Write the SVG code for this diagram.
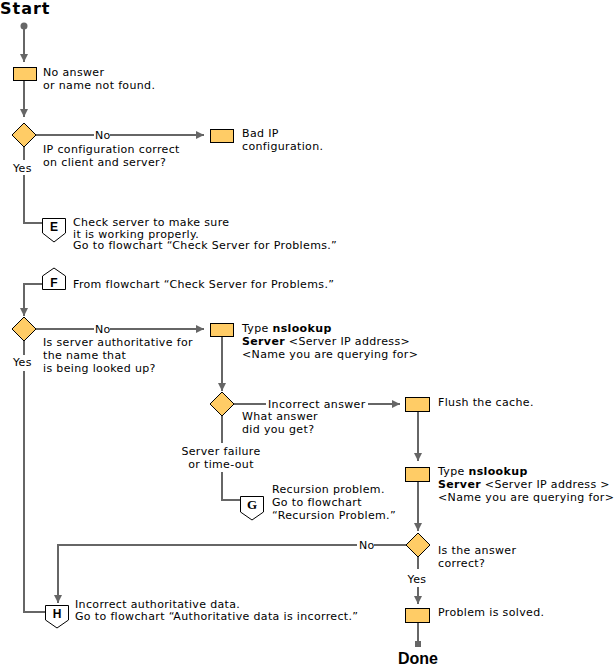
<svg xmlns="http://www.w3.org/2000/svg" width="615" height="670" viewBox="0 0 615 670">
<style>
.ln{stroke:#666;stroke-width:2;fill:none}
.box{fill:#FFCC66;stroke:#000;stroke-width:1}
.pg{fill:#fff;stroke:#000;stroke-width:1}
.t{font-family:"DejaVu Sans",Verdana,sans-serif;font-size:11px;letter-spacing:0.35px;fill:#000}
.b{font-weight:bold}
.lt{font-family:"Liberation Sans",Arial,sans-serif;font-weight:bold;font-size:12px;text-anchor:middle}
.mid{text-anchor:middle}
</style>
<defs>
<marker id="ah" markerUnits="userSpaceOnUse" markerWidth="8" markerHeight="8" refX="8" refY="4" orient="auto">
<path d="M0,0 L8,4 L0,8 z" fill="#666"/>
</marker>
</defs>
<rect width="615" height="670" fill="#fff"/>
<g id="connectors">
<circle cx="24" cy="26" r="3.5" fill="#666"/>
<line class="ln" x1="24" y1="26" x2="24" y2="62" marker-end="url(#ah)"/>
<line class="ln" x1="24" y1="81" x2="24" y2="117" marker-end="url(#ah)"/>
<line class="ln" x1="36" y1="135" x2="94" y2="135"/>
<line class="ln" x1="110" y1="135" x2="204" y2="135" marker-end="url(#ah)"/>
<line class="ln" x1="24" y1="147" x2="24" y2="160"/>
<path class="ln" d="M24,175 V223 H43"/>
<path class="ln" d="M43,284 H24 V316" marker-end="url(#ah)"/>
<line class="ln" x1="36" y1="329" x2="94" y2="329"/>
<line class="ln" x1="110" y1="329" x2="204" y2="329" marker-end="url(#ah)"/>
<line class="ln" x1="24" y1="341" x2="24" y2="355"/>
<path class="ln" d="M24,371 V612 H46"/>
<line class="ln" x1="222" y1="337" x2="222" y2="391" marker-end="url(#ah)"/>
<line class="ln" x1="234" y1="404" x2="266" y2="404"/>
<line class="ln" x1="368" y1="404" x2="400" y2="404" marker-end="url(#ah)"/>
<line class="ln" x1="222" y1="416" x2="222" y2="443"/>
<path class="ln" d="M222,472 V500 H241"/>
<line class="ln" x1="418" y1="411" x2="418" y2="461" marker-end="url(#ah)"/>
<line class="ln" x1="418" y1="481" x2="418" y2="531" marker-end="url(#ah)"/>
<line class="ln" x1="406" y1="545" x2="374" y2="545"/>
<path class="ln" d="M357,545 H58 V603" marker-end="url(#ah)"/>
<line class="ln" x1="418" y1="557" x2="418" y2="569"/>
<line class="ln" x1="418" y1="587" x2="418" y2="604" marker-end="url(#ah)"/>
<line class="ln" x1="418" y1="622" x2="418" y2="642"/>
<rect x="415" y="641" width="6" height="6" fill="#666"/>
<text class="t" x="95" y="139">No</text>
<text class="t" x="13" y="172">Yes</text>
<text class="t" x="95" y="333">No</text>
<text class="t" x="13" y="366">Yes</text>
<text class="t" x="268" y="408">Incorrect answer</text>
<text class="t mid" x="221" y="455">Server failure</text>
<text class="t mid" x="221" y="468">or time-out</text>
<text class="t" x="359" y="549">No</text>
<text class="t mid" x="417" y="583">Yes</text>
</g>
<g id="start">
<text x="0" y="14" style="font-family:'DejaVu Sans',Verdana,sans-serif;font-weight:bold;font-size:16px;letter-spacing:1px">Start</text>
</g>
<g id="n1">
<rect class="box" x="13.5" y="67.5" width="23" height="13"/>
<text class="t" x="43" y="76">No answer</text>
<text class="t" x="43" y="89">or name not found.</text>
</g>
<g id="d1">
<polygon class="box" points="24,123 36,135 24,147 12,135"/>
<text class="t" x="43" y="153">IP configuration correct</text>
<text class="t" x="43" y="166">on client and server?</text>
</g>
<g id="n2">
<rect class="box" x="210.5" y="129.5" width="23" height="13"/>
<text class="t" x="242" y="137">Bad IP</text>
<text class="t" x="242" y="150">configuration.</text>
</g>
<g id="E">
<polygon class="pg" points="42.5,218.5 65.5,218.5 65.5,233 54,242 42.5,233"/>
<text class="lt" x="54" y="231">E</text>
<text class="t" x="73" y="226">Check server to make sure</text>
<text class="t" x="73" y="237.5">it is working properly.</text>
<text class="t" x="73" y="249">Go to flowchart “Check Server for Problems.”</text>
</g>
<g id="F">
<polygon class="pg" points="54,268 65.5,276 65.5,289.5 42.5,289.5 42.5,276"/>
<text class="lt" x="54" y="287">F</text>
<text class="t" x="73" y="288">From flowchart “Check Server for Problems.”</text>
</g>
<g id="d2">
<polygon class="box" points="24,317 36,329 24,341 12,329"/>
<text class="t" x="43" y="346">Is server authoritative for</text>
<text class="t" x="43" y="359">the name that</text>
<text class="t" x="43" y="372">is being looked up?</text>
</g>
<g id="n3">
<rect class="box" x="210.5" y="323.5" width="23" height="13"/>
<text class="t" x="242" y="332">Type <tspan class="b">nslookup</tspan></text>
<text class="t" x="242" y="345"><tspan class="b">Server</tspan> &lt;Server IP address&gt;</text>
<text class="t" x="242" y="358">&lt;Name you are querying for&gt;</text>
</g>
<g id="d3">
<polygon class="box" points="222,392 234,404 222,416 210,404"/>
<text class="t" x="242" y="420">What answer</text>
<text class="t" x="242" y="433">did you get?</text>
</g>
<g id="n4">
<rect class="box" x="405.5" y="397.5" width="24" height="14"/>
<text class="t" x="438" y="406">Flush the cache.</text>
</g>
<g id="G">
<polygon class="pg" points="240.5,496.5 263.5,496.5 263.5,512 252,520 240.5,512"/>
<text x="252" y="509" style="font-family:'Liberation Serif','Times New Roman',serif;font-weight:bold;font-size:13px;text-anchor:middle">G</text>
<text class="t" x="272" y="493">Recursion problem.</text>
<text class="t" x="272" y="506">Go to flowchart</text>
<text class="t" x="272" y="519">“Recursion Problem.”</text>
</g>
<g id="n5">
<rect class="box" x="405.5" y="467.5" width="24" height="14"/>
<text class="t" x="438" y="475">Type <tspan class="b">nslookup</tspan></text>
<text class="t" x="438" y="488"><tspan class="b">Server</tspan> &lt;Server IP address &gt;</text>
<text class="t" x="438" y="501">&lt;Name you are querying for&gt;</text>
</g>
<g id="d4">
<polygon class="box" points="418,533 430,545 418,557 406,545"/>
<text class="t" x="438" y="554">Is the answer</text>
<text class="t" x="438" y="567">correct?</text>
</g>
<g id="H">
<polygon class="pg" points="45.5,605.5 68.5,605.5 68.5,620 57,628 45.5,620"/>
<text class="lt" x="57" y="618">H</text>
<text class="t" x="75" y="608">Incorrect authoritative data.</text>
<text class="t" x="75" y="620">Go to flowchart “Authoritative data is incorrect.”</text>
</g>
<g id="n6">
<rect class="box" x="405.5" y="608.5" width="24" height="14"/>
<text class="t" x="438" y="616">Problem is solved.</text>
</g>
<g id="done">
<text x="418" y="664" style="font-family:'Liberation Sans',Arial,sans-serif;font-weight:bold;font-size:16px;text-anchor:middle">Done</text>
</g>
</svg>
